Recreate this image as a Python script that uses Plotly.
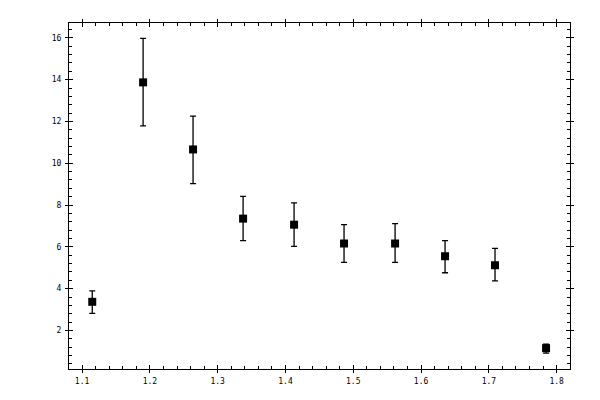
import plotly.graph_objects as go

# measured points
x_vals = [1.115, 1.190, 1.2637, 1.3375, 1.4127, 1.4864, 1.5617, 1.6354, 1.7091, 1.7844]
y_vals = [3.37, 13.87, 10.66, 7.35, 7.06, 6.16, 6.16, 5.55, 5.12, 1.15]
err_hi = [3.89, 15.97, 12.25, 8.41, 8.10, 7.06, 7.11, 6.30, 5.93, 1.34]
err_lo = [2.82, 11.79, 9.02, 6.30, 6.02, 5.26, 5.26, 4.76, 4.37, 0.91]

x_range = [1.0807, 1.8197]
y_range = [0.155, 16.71]

fig = go.Figure()

fig.add_trace(go.Scatter(
    x=x_vals,
    y=y_vals,
    mode='markers',
    marker=dict(symbol='square', size=8, color='black'),
    error_y=dict(
        type='data',
        symmetric=False,
        array=[h - y for h, y in zip(err_hi, y_vals)],
        arrayminus=[y - l for l, y in zip(err_lo, y_vals)],
        color='black',
        thickness=1.3,
        width=3,
    ),
    showlegend=False,
))

font = dict(family='DejaVu Sans Mono', size=8, color='black')

common = dict(
    showline=True, linecolor='black', linewidth=1,
    showgrid=False, zeroline=False, mirror='allticks',
    tickcolor='black', tickwidth=1,
)

# the page body adds an 8px offset, so margins are shifted to compensate
fig.update_layout(
    width=600, height=400,
    paper_bgcolor='white', plot_bgcolor='white',
    margin=dict(l=61, r=38, t=11, b=39),
    font=font,
    xaxis=dict(
        range=x_range, dtick=0.1, tick0=1.0, tickformat='.1f',
        ticks='inside', ticklen=4, ticklabelstandoff=4,
        minor=dict(dtick=0.02, tick0=1.0, ticks='inside', ticklen=3,
                   tickcolor='black', showgrid=False),
        **common
    ),
    yaxis=dict(
        range=y_range, dtick=2, tick0=0,
        ticks='inside', ticklen=4, ticklabelstandoff=5,
        minor=dict(dtick=0.4, tick0=0, ticks='inside', ticklen=3,
                   tickcolor='black', showgrid=False),
        **common
    ),
    # outer halves of the major ticks
    xaxis2=dict(
        range=x_range, dtick=0.1, tick0=1.0, overlaying='x', anchor='y',
        ticks='outside', ticklen=3, showticklabels=False,
        **common
    ),
    yaxis2=dict(
        range=y_range, dtick=2, tick0=0, overlaying='y', anchor='x',
        ticks='outside', ticklen=3, showticklabels=False,
        **common
    ),
)

# invisible trace to activate the second axes
fig.add_trace(go.Scatter(x=[x_vals[0]], y=[y_vals[0]], xaxis='x2', yaxis='y2',
                         mode='markers', marker=dict(opacity=0),
                         hoverinfo='skip', showlegend=False))

fig.write_html("out.html")
